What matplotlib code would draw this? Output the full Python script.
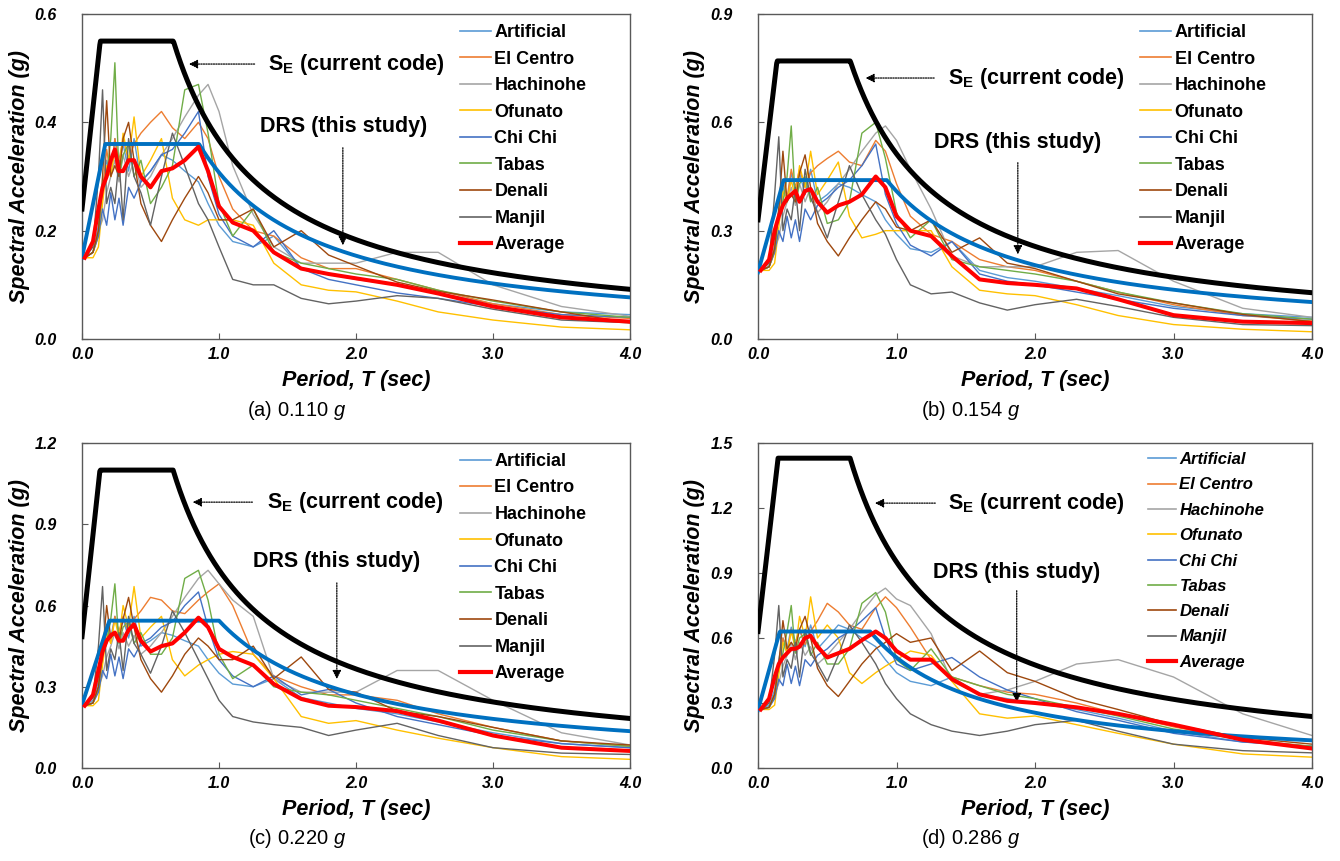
import numpy as np
import matplotlib
matplotlib.use('Agg')
import matplotlib.pyplot as plt
from matplotlib.lines import Line2D

plt.rcParams['font.family'] = ['Liberation Sans', 'DejaVu Sans']
plt.rcParams['mathtext.fontset'] = 'custom'
plt.rcParams['mathtext.rm'] = 'Liberation Sans:bold'
plt.rcParams['mathtext.it'] = 'Liberation Sans:italic'

# Common period grid (sec) for the ground-motion records
period = [0.02, 0.08, 0.12, 0.15, 0.18, 0.21, 0.24, 0.27, 0.30, 0.34,
          0.38, 0.43, 0.50, 0.58, 0.66, 0.75, 0.85, 0.92, 1.00, 1.10,
          1.25, 1.40, 1.60, 1.80, 2.00, 2.30, 2.60, 3.00, 3.50, 4.00]

records = ['Artificial', 'El Centro', 'Hachinohe', 'Ofunato', 'Chi Chi',
           'Tabas', 'Denali', 'Manjil']
rec_colors = ['#5B9BD5', '#ED7D31', '#A5A5A5', '#FFC000', '#4472C4',
              '#70AD47', '#9E480E', '#636363']

captions = ['(a) 0.110 ', '(b) 0.154 ', '(c) 0.220 ', '(d) 0.286 ']
y_max = [0.6, 0.9, 1.2, 1.5]
y_step = [0.2, 0.3, 0.3, 0.3]

# Code spectrum S_E and proposed DRS (start value, plateau, corner periods)
se_start = [0.24, 0.33, 0.485, 0.63]
se_peak = [0.55, 0.77, 1.10, 1.43]
se_t0 = [0.133, 0.137, 0.131, 0.145]
se_ts = [0.667, 0.666, 0.665, 0.665]
drs_start = [0.15, 0.185, 0.233, 0.268]
drs_peak = [0.36, 0.44, 0.544, 0.63]
drs_t0 = [0.17, 0.185, 0.20, 0.157]
drs_ts = [0.854, 0.93, 1.0, 0.81]

# ---- panel (a) 0.110 g ----
artificial_a = [0.15, 0.16, 0.21, 0.28, 0.33, 0.30, 0.37, 0.32, 0.36, 0.31, 0.37, 0.29, 0.31, 0.34, 0.33, 0.31, 0.29, 0.25, 0.21, 0.18, 0.17, 0.19, 0.13, 0.12, 0.11, 0.10, 0.085, 0.065, 0.05, 0.045]
elcentro_a = [0.15, 0.16, 0.19, 0.27, 0.35, 0.30, 0.37, 0.33, 0.37, 0.33, 0.36, 0.38, 0.40, 0.42, 0.39, 0.37, 0.40, 0.37, 0.30, 0.24, 0.20, 0.19, 0.15, 0.13, 0.13, 0.11, 0.09, 0.065, 0.045, 0.038]
hachinohe_a = [0.15, 0.16, 0.20, 0.22, 0.27, 0.30, 0.33, 0.29, 0.34, 0.30, 0.33, 0.28, 0.30, 0.34, 0.37, 0.41, 0.45, 0.47, 0.42, 0.32, 0.23, 0.17, 0.14, 0.14, 0.14, 0.16, 0.16, 0.10, 0.06, 0.042]
ofunato_a = [0.15, 0.15, 0.17, 0.25, 0.32, 0.30, 0.35, 0.31, 0.38, 0.33, 0.41, 0.30, 0.33, 0.37, 0.26, 0.22, 0.21, 0.22, 0.22, 0.22, 0.21, 0.14, 0.10, 0.09, 0.087, 0.07, 0.05, 0.035, 0.022, 0.017]
chichi_a = [0.15, 0.16, 0.19, 0.24, 0.21, 0.27, 0.22, 0.26, 0.21, 0.28, 0.26, 0.29, 0.31, 0.34, 0.35, 0.38, 0.42, 0.30, 0.23, 0.19, 0.17, 0.20, 0.13, 0.11, 0.10, 0.085, 0.075, 0.06, 0.045, 0.04]
tabas_a = [0.15, 0.16, 0.20, 0.28, 0.30, 0.37, 0.51, 0.30, 0.34, 0.36, 0.30, 0.33, 0.25, 0.28, 0.32, 0.46, 0.47, 0.38, 0.25, 0.19, 0.24, 0.16, 0.14, 0.13, 0.12, 0.11, 0.09, 0.07, 0.05, 0.04]
denali_a = [0.15, 0.16, 0.20, 0.30, 0.44, 0.30, 0.32, 0.30, 0.37, 0.40, 0.33, 0.25, 0.21, 0.18, 0.22, 0.26, 0.30, 0.27, 0.22, 0.22, 0.24, 0.17, 0.20, 0.155, 0.135, 0.105, 0.088, 0.072, 0.05, 0.03]
manjil_a = [0.15, 0.17, 0.30, 0.46, 0.25, 0.28, 0.25, 0.33, 0.22, 0.37, 0.30, 0.27, 0.21, 0.30, 0.38, 0.32, 0.25, 0.22, 0.17, 0.11, 0.10, 0.10, 0.075, 0.065, 0.07, 0.08, 0.075, 0.055, 0.035, 0.03]
average_a = [0.15, 0.18, 0.24, 0.28, 0.30, 0.33, 0.35, 0.31, 0.31, 0.33, 0.33, 0.30, 0.28, 0.31, 0.315, 0.33, 0.355, 0.31, 0.245, 0.215, 0.20, 0.16, 0.13, 0.12, 0.112, 0.10, 0.084, 0.06, 0.04, 0.032]

# ---- panel (b) 0.154 g ----
artificial_b = [0.19, 0.20, 0.26, 0.36, 0.42, 0.38, 0.46, 0.41, 0.46, 0.40, 0.47, 0.38, 0.40, 0.43, 0.42, 0.40, 0.38, 0.33, 0.29, 0.25, 0.24, 0.27, 0.19, 0.17, 0.16, 0.14, 0.12, 0.09, 0.07, 0.06]
elcentro_b = [0.19, 0.20, 0.24, 0.35, 0.44, 0.39, 0.47, 0.42, 0.47, 0.42, 0.46, 0.48, 0.50, 0.52, 0.49, 0.48, 0.55, 0.52, 0.43, 0.34, 0.29, 0.27, 0.22, 0.20, 0.19, 0.16, 0.13, 0.095, 0.065, 0.05]
hachinohe_b = [0.19, 0.20, 0.25, 0.28, 0.34, 0.38, 0.42, 0.37, 0.43, 0.38, 0.42, 0.35, 0.38, 0.43, 0.47, 0.52, 0.57, 0.59, 0.55, 0.47, 0.36, 0.23, 0.20, 0.20, 0.20, 0.24, 0.245, 0.16, 0.085, 0.06]
ofunato_b = [0.19, 0.19, 0.21, 0.31, 0.41, 0.38, 0.44, 0.39, 0.48, 0.42, 0.52, 0.40, 0.44, 0.49, 0.34, 0.28, 0.29, 0.30, 0.30, 0.30, 0.30, 0.20, 0.135, 0.125, 0.12, 0.095, 0.065, 0.04, 0.027, 0.02]
chichi_b = [0.19, 0.20, 0.24, 0.30, 0.27, 0.34, 0.28, 0.33, 0.27, 0.36, 0.33, 0.37, 0.39, 0.42, 0.44, 0.48, 0.54, 0.40, 0.32, 0.26, 0.23, 0.27, 0.18, 0.16, 0.15, 0.13, 0.11, 0.085, 0.065, 0.055]
tabas_b = [0.19, 0.20, 0.25, 0.35, 0.38, 0.45, 0.59, 0.38, 0.43, 0.45, 0.38, 0.42, 0.32, 0.33, 0.38, 0.57, 0.60, 0.50, 0.35, 0.28, 0.33, 0.22, 0.20, 0.19, 0.18, 0.16, 0.13, 0.10, 0.07, 0.055]
denali_b = [0.19, 0.20, 0.25, 0.36, 0.52, 0.38, 0.40, 0.38, 0.46, 0.51, 0.42, 0.32, 0.27, 0.23, 0.28, 0.33, 0.38, 0.36, 0.31, 0.30, 0.33, 0.24, 0.28, 0.21, 0.195, 0.16, 0.125, 0.10, 0.068, 0.048]
manjil_b = [0.19, 0.21, 0.40, 0.56, 0.30, 0.36, 0.33, 0.42, 0.30, 0.47, 0.39, 0.35, 0.28, 0.38, 0.48, 0.40, 0.33, 0.29, 0.22, 0.15, 0.125, 0.13, 0.10, 0.08, 0.095, 0.11, 0.09, 0.06, 0.04, 0.037]
average_b = [0.19, 0.22, 0.30, 0.34, 0.37, 0.39, 0.40, 0.41, 0.38, 0.41, 0.415, 0.38, 0.35, 0.37, 0.38, 0.40, 0.45, 0.42, 0.34, 0.30, 0.285, 0.23, 0.165, 0.155, 0.15, 0.14, 0.11, 0.066, 0.048, 0.044]

# ---- panel (c) 0.220 g ----
artificial_c = [0.23, 0.25, 0.32, 0.44, 0.52, 0.48, 0.56, 0.50, 0.55, 0.48, 0.56, 0.45, 0.47, 0.50, 0.49, 0.47, 0.45, 0.40, 0.35, 0.31, 0.30, 0.33, 0.26, 0.24, 0.22, 0.20, 0.17, 0.13, 0.09, 0.075]
elcentro_c = [0.23, 0.24, 0.29, 0.42, 0.53, 0.46, 0.56, 0.50, 0.56, 0.50, 0.55, 0.58, 0.63, 0.62, 0.58, 0.57, 0.62, 0.65, 0.68, 0.60, 0.42, 0.34, 0.30, 0.27, 0.27, 0.25, 0.20, 0.15, 0.10, 0.08]
hachinohe_c = [0.23, 0.24, 0.30, 0.34, 0.41, 0.45, 0.50, 0.44, 0.50, 0.45, 0.49, 0.42, 0.45, 0.50, 0.56, 0.63, 0.70, 0.73, 0.68, 0.62, 0.56, 0.33, 0.28, 0.28, 0.28, 0.36, 0.36, 0.25, 0.13, 0.085]
ofunato_c = [0.23, 0.23, 0.25, 0.38, 0.50, 0.46, 0.55, 0.48, 0.60, 0.52, 0.67, 0.48, 0.52, 0.56, 0.40, 0.34, 0.38, 0.40, 0.42, 0.43, 0.42, 0.33, 0.19, 0.165, 0.175, 0.14, 0.11, 0.075, 0.042, 0.032]
chichi_c = [0.23, 0.24, 0.28, 0.36, 0.33, 0.42, 0.34, 0.41, 0.33, 0.44, 0.41, 0.46, 0.48, 0.52, 0.54, 0.60, 0.65, 0.52, 0.40, 0.34, 0.30, 0.34, 0.27, 0.29, 0.24, 0.19, 0.16, 0.12, 0.09, 0.075]
tabas_c = [0.23, 0.24, 0.30, 0.42, 0.46, 0.55, 0.68, 0.46, 0.52, 0.54, 0.46, 0.50, 0.42, 0.42, 0.48, 0.70, 0.73, 0.62, 0.42, 0.33, 0.38, 0.30, 0.28, 0.27, 0.25, 0.22, 0.19, 0.14, 0.10, 0.08]
denali_c = [0.23, 0.24, 0.30, 0.42, 0.60, 0.48, 0.50, 0.47, 0.55, 0.63, 0.52, 0.40, 0.33, 0.28, 0.34, 0.42, 0.48, 0.45, 0.40, 0.40, 0.45, 0.33, 0.41, 0.29, 0.28, 0.21, 0.19, 0.15, 0.10, 0.085]
manjil_c = [0.23, 0.26, 0.45, 0.67, 0.36, 0.44, 0.40, 0.50, 0.36, 0.56, 0.46, 0.42, 0.35, 0.45, 0.58, 0.50, 0.40, 0.33, 0.25, 0.19, 0.17, 0.16, 0.15, 0.12, 0.14, 0.165, 0.12, 0.075, 0.055, 0.05]
average_c = [0.23, 0.27, 0.36, 0.43, 0.47, 0.49, 0.50, 0.47, 0.47, 0.51, 0.53, 0.47, 0.43, 0.45, 0.46, 0.50, 0.555, 0.52, 0.44, 0.41, 0.38, 0.31, 0.255, 0.23, 0.225, 0.21, 0.175, 0.12, 0.075, 0.063]

# ---- panel (d) 0.286 g ----
artificial_d = [0.27, 0.29, 0.36, 0.50, 0.60, 0.55, 0.65, 0.58, 0.64, 0.56, 0.66, 0.55, 0.60, 0.66, 0.64, 0.60, 0.56, 0.50, 0.44, 0.40, 0.38, 0.42, 0.34, 0.32, 0.30, 0.27, 0.23, 0.17, 0.12, 0.10]
elcentro_d = [0.27, 0.28, 0.33, 0.48, 0.60, 0.53, 0.64, 0.57, 0.64, 0.57, 0.63, 0.68, 0.76, 0.72, 0.66, 0.64, 0.74, 0.79, 0.74, 0.65, 0.50, 0.42, 0.38, 0.35, 0.34, 0.30, 0.25, 0.19, 0.13, 0.10]
hachinohe_d = [0.27, 0.28, 0.34, 0.39, 0.47, 0.52, 0.58, 0.50, 0.58, 0.52, 0.56, 0.48, 0.52, 0.58, 0.64, 0.72, 0.80, 0.83, 0.78, 0.75, 0.62, 0.40, 0.34, 0.36, 0.40, 0.48, 0.50, 0.42, 0.25, 0.15]
ofunato_d = [0.27, 0.27, 0.29, 0.43, 0.58, 0.53, 0.63, 0.55, 0.70, 0.60, 0.79, 0.60, 0.66, 0.60, 0.44, 0.39, 0.44, 0.47, 0.50, 0.54, 0.52, 0.40, 0.25, 0.23, 0.24, 0.20, 0.16, 0.11, 0.065, 0.05]
chichi_d = [0.27, 0.28, 0.32, 0.41, 0.38, 0.48, 0.39, 0.47, 0.38, 0.50, 0.47, 0.52, 0.55, 0.60, 0.63, 0.68, 0.74, 0.60, 0.48, 0.45, 0.48, 0.51, 0.42, 0.36, 0.32, 0.26, 0.22, 0.16, 0.12, 0.10]
tabas_d = [0.27, 0.28, 0.34, 0.48, 0.53, 0.63, 0.75, 0.53, 0.60, 0.62, 0.52, 0.58, 0.48, 0.48, 0.55, 0.76, 0.81, 0.72, 0.50, 0.45, 0.55, 0.42, 0.38, 0.34, 0.32, 0.28, 0.24, 0.18, 0.13, 0.10]
denali_d = [0.27, 0.28, 0.34, 0.48, 0.68, 0.55, 0.58, 0.55, 0.64, 0.70, 0.60, 0.46, 0.38, 0.33, 0.40, 0.48, 0.55, 0.58, 0.62, 0.58, 0.60, 0.45, 0.54, 0.44, 0.40, 0.32, 0.27, 0.20, 0.14, 0.11]
manjil_d = [0.27, 0.30, 0.52, 0.75, 0.42, 0.50, 0.46, 0.58, 0.42, 0.64, 0.53, 0.48, 0.40, 0.52, 0.66, 0.58, 0.48, 0.39, 0.32, 0.25, 0.20, 0.17, 0.15, 0.17, 0.20, 0.22, 0.17, 0.11, 0.08, 0.07]
average_d = [0.27, 0.32, 0.42, 0.48, 0.51, 0.53, 0.55, 0.55, 0.56, 0.60, 0.61, 0.56, 0.51, 0.53, 0.55, 0.59, 0.63, 0.60, 0.54, 0.50, 0.50, 0.41, 0.34, 0.31, 0.30, 0.28, 0.25, 0.20, 0.13, 0.09]

panel_records = [
    [artificial_a, elcentro_a, hachinohe_a, ofunato_a, chichi_a, tabas_a, denali_a, manjil_a],
    [artificial_b, elcentro_b, hachinohe_b, ofunato_b, chichi_b, tabas_b, denali_b, manjil_b],
    [artificial_c, elcentro_c, hachinohe_c, ofunato_c, chichi_c, tabas_c, denali_c, manjil_c],
    [artificial_d, elcentro_d, hachinohe_d, ofunato_d, chichi_d, tabas_d, denali_d, manjil_d],
]
panel_average = [average_a, average_b, average_c, average_d]

# annotation layout (axes fraction): SE text / arrow, DRS text / arrow
se_text_pos = [(0.34, 0.846), (0.343, 0.803), (0.338, 0.818), (0.343, 0.815)]
se_arrow = [((0.32, 0.846), (0.19, 0.846)), ((0.323, 0.803), (0.189, 0.803)),
            ((0.316, 0.818), (0.197, 0.818)), ((0.325, 0.815), (0.206, 0.815))]
drs_text_pos = [(0.325, 0.655), (0.318, 0.606), (0.312, 0.634), (0.316, 0.603)]
drs_arrow = [((0.476, 0.597), (0.476, 0.28)), ((0.469, 0.551), (0.469, 0.252)),
             ((0.465, 0.578), (0.465, 0.265)), ((0.467, 0.554), (0.467, 0.194))]
legend_x = [0.672, 0.672, 0.672, 0.687]

axes_rects = [
    [82 / 1340, 1 - 339 / 861, 548 / 1340, 325 / 861],
    [758 / 1340, 1 - 339 / 861, 554 / 1340, 325 / 861],
    [82 / 1340, 1 - 768 / 861, 548 / 1340, 325 / 861],
    [758 / 1340, 1 - 768 / 861, 554 / 1340, 325 / 861],
]
caption_xy = [(297 / 1340, 1 - 410 / 861), (971 / 1340, 1 - 410 / 861),
              (297 / 1340, 1 - 839 / 861), (971 / 1340, 1 - 839 / 861)]


def design_spectrum(t, start, peak, t0, ts):
    return np.where(t < t0, start + (peak - start) * t / t0,
                    np.where(t <= ts, peak, peak * ts / np.maximum(t, 1e-6)))


fig = plt.figure(figsize=(13.4, 8.61), dpi=100)
t_dense = np.linspace(0.0, 4.0, 801)

for i in range(4):
    ax = fig.add_axes(axes_rects[i])

    for vals, color in zip(panel_records[i], rec_colors):
        ax.plot(period, vals, color=color, lw=1.0, zorder=2)

    drs = design_spectrum(t_dense, drs_start[i], drs_peak[i], drs_t0[i], drs_ts[i])
    ax.plot(t_dense, drs, color='#0070C0', lw=2.8, zorder=3, solid_joinstyle='round')
    se = design_spectrum(t_dense, se_start[i], se_peak[i], se_t0[i], se_ts[i])
    ax.plot(t_dense, se, color='black', lw=3.6, zorder=4, solid_joinstyle='round')
    ax.plot(period, panel_average[i], color='#FF0000', lw=2.9, zorder=5,
            solid_joinstyle='round')

    ax.set_xlim(0, 4.0)
    ax.set_ylim(0, y_max[i])
    ax.set_xticks(np.arange(0, 4.01, 1.0))
    ax.set_yticks(np.arange(0, y_max[i] + 1e-6, y_step[i]))
    ax.xaxis.set_major_formatter(plt.FormatStrFormatter('%.1f'))
    ax.yaxis.set_major_formatter(plt.FormatStrFormatter('%.1f'))
    ax.tick_params(direction='in', length=4, width=0.8, color='#595959')
    ax.tick_params(axis='y', pad=18)
    ax.tick_params(axis='x', pad=6)
    for lbl in ax.get_xticklabels() + ax.get_yticklabels():
        lbl.set_fontweight('bold')
        lbl.set_fontstyle('italic')
        lbl.set_fontsize(11.5)
    for sp in ax.spines.values():
        sp.set_color('#595959')
        sp.set_linewidth(1.0)

    ax.set_xlabel('Period, T (sec)', fontsize=15.5, fontweight='bold', style='italic')
    ax.set_ylabel('Spectral Acceleration (g)', fontsize=15.5, fontweight='bold',
                  style='italic')
    ax.xaxis.set_label_coords(0.5, -0.095)
    ax.yaxis.set_label_coords(-0.095, 0.5)

    # legend
    handles = [Line2D([], [], color=c, lw=1.2) for c in rec_colors]
    handles.append(Line2D([], [], color='#FF0000', lw=3.0))
    labels = records + ['Average']
    if i == 3:
        prop = dict(weight='bold', style='italic', size=12)
        spacing = 0.62
    else:
        prop = dict(weight='bold', size=13)
        spacing = 0.53
    ax.legend(handles, labels, loc='upper left', bbox_to_anchor=(legend_x[i], 1.0),
              frameon=False, prop=prop, handlelength=1.7, handletextpad=0.2,
              labelspacing=spacing, borderaxespad=0.15)

    # annotations
    ax.text(se_text_pos[i][0], se_text_pos[i][1], r'S$_{\mathrm{E}}$ (current code)',
            transform=ax.transAxes, fontsize=15.5, fontweight='bold',
            ha='left', va='center')
    ax.annotate('', xy=se_arrow[i][1], xytext=se_arrow[i][0],
                xycoords='axes fraction', textcoords='axes fraction',
                arrowprops=dict(arrowstyle='-|>', linestyle=(0, (1, 1)),
                                color='black', lw=0.9, mutation_scale=13))
    ax.text(drs_text_pos[i][0], drs_text_pos[i][1], 'DRS (this study)',
            transform=ax.transAxes, fontsize=15.5, fontweight='bold',
            ha='left', va='center')
    ax.annotate('', xy=drs_arrow[i][1], xytext=drs_arrow[i][0],
                xycoords='axes fraction', textcoords='axes fraction',
                arrowprops=dict(arrowstyle='-|>', linestyle=(0, (1, 1)),
                                color='black', lw=0.9, mutation_scale=13))

    fig.text(caption_xy[i][0], caption_xy[i][1], captions[i] + r'$g$',
             fontsize=14.5, ha='center', va='center')

fig.savefig('out.png', dpi=100)
